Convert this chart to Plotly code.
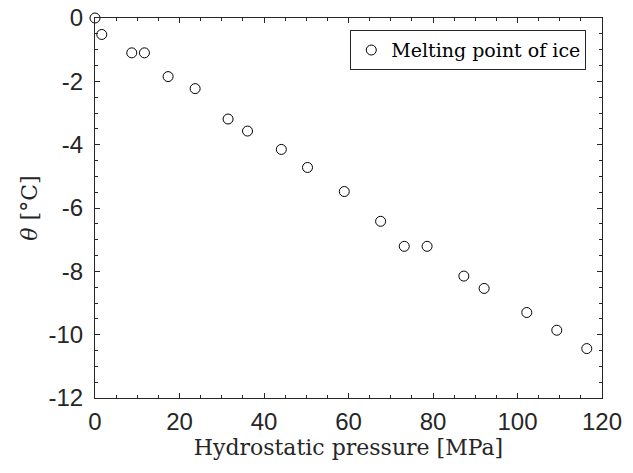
import plotly.graph_objects as go

pressure_mpa = [0.0, 1.6, 8.7, 11.7, 17.3, 23.7, 31.5, 36.1, 44.1, 50.3,
                59.0, 67.6, 73.2, 78.6, 87.3, 92.1, 102.2, 109.3, 116.4]
melting_c = [0.0, -0.52, -1.10, -1.10, -1.85, -2.23, -3.19, -3.57, -4.15, -4.72,
             -5.48, -6.42, -7.21, -7.21, -8.15, -8.54, -9.30, -9.86, -10.44]
series_name = "Melting point of ice"
x_ticks = [0, 20, 40, 60, 80, 100, 120]
y_ticks = [0, -2, -4, -6, -8, -10, -12]

axis_col = "#262626"
serif = "DejaVu Serif"
sans = "Liberation Sans Narrow, Liberation Sans"

fig = go.Figure()
fig.add_trace(go.Scatter(
    x=pressure_mpa, y=melting_c, mode="markers", name=series_name,
    marker=dict(symbol="circle-open", size=10, color="black", line=dict(width=1, color="black")),
    cliponaxis=False,
))

common = dict(showline=True, linecolor=axis_col, linewidth=1, mirror="ticks",
              ticks="inside", ticklen=5, tickcolor=axis_col, tickwidth=1,
              showgrid=False, zeroline=False, automargin=False,
              tickfont=dict(family=sans, size=24, color="#262626"))

fig.update_xaxes(range=[0, 120], tickvals=x_ticks, ticktext=[str(v) for v in x_ticks],
                 ticklabelstandoff=2,
                 minor=dict(ticks="inside", dtick=5, ticklen=3, tickcolor=axis_col, showgrid=False),
                 title=dict(text="Hydrostatic pressure [MPa]", font=dict(family=serif, size=22, color="#262626"), standoff=5),
                 **common)
fig.update_yaxes(range=[-12, 0], tickvals=y_ticks, ticktext=[str(v) for v in y_ticks],
                 ticklabelstandoff=6,
                 minor=dict(ticks="inside", dtick=0.5, ticklen=3, tickcolor=axis_col, showgrid=False),
                 title=dict(text="<i>θ</i> [°C]", font=dict(family=serif, size=22, color="#262626"), standoff=4),
                 **common)

fig.update_layout(
    width=633, height=473,
    margin=dict(l=95, r=31, t=18, b=75),
    plot_bgcolor="white", paper_bgcolor="white",
    showlegend=True,
    legend=dict(x=0.969, y=0.968, xanchor="right", yanchor="top",
                bordercolor=axis_col, borderwidth=1, bgcolor="white",
                font=dict(family=serif, size=19, color="black")),
)

fig.write_html("out.html")
